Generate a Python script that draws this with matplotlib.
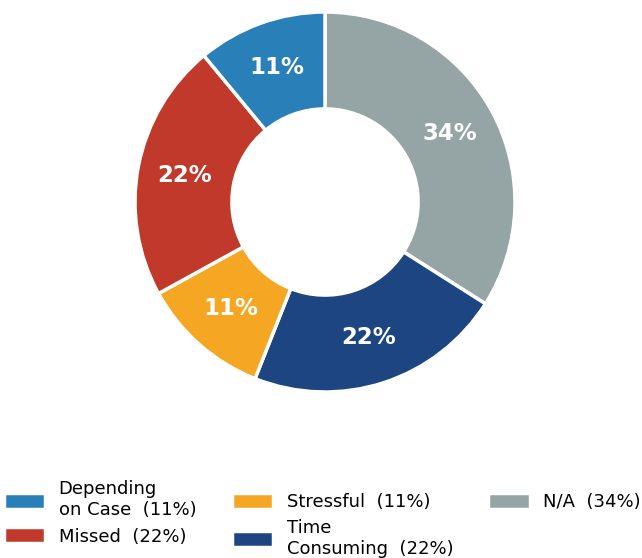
import matplotlib.pyplot as plt

# slices, clockwise from the top
labels = ["N/A", "Time\nConsuming", "Stressful", "Missed", "Depending\non Case"]
values = [34, 22, 11, 22, 11]
colors = ["#95a5a6", "#1c4582", "#f5a623", "#c0392b", "#2980b9"]

# legend order (column-major, 3 columns)
legend_order = [4, 3, 2, 1, 0]

fig = plt.figure(figsize=(6.42, 5.58), dpi=100)
ax = fig.add_axes([135 / 642, 166 / 558, 380 / 642, 380 / 558])

wedges, texts, autotexts = ax.pie(
    values, colors=colors, startangle=90, counterclock=False,
    autopct="%d%%", pctdistance=0.75,
    wedgeprops=dict(width=0.51, edgecolor="white", linewidth=2.5),
    textprops=dict(color="white", fontsize=16.5, fontweight="bold"),
)
ax.set_xlim(-1, 1)
ax.set_ylim(-1, 1)
ax.set_aspect("equal")

handles = [wedges[i] for i in legend_order]
names = ["%s  (%d%%)" % (labels[i], values[i]) for i in legend_order]
fig.legend(handles, names, loc="lower left", bbox_to_anchor=(0.0, -0.006),
           ncol=3, frameon=False, fontsize=13, handlelength=2.3,
           handleheight=1.0, columnspacing=1.95, handletextpad=0.75,
           labelspacing=0.45, borderaxespad=0.0, borderpad=0.2)

fig.savefig("out.png", dpi=100)
